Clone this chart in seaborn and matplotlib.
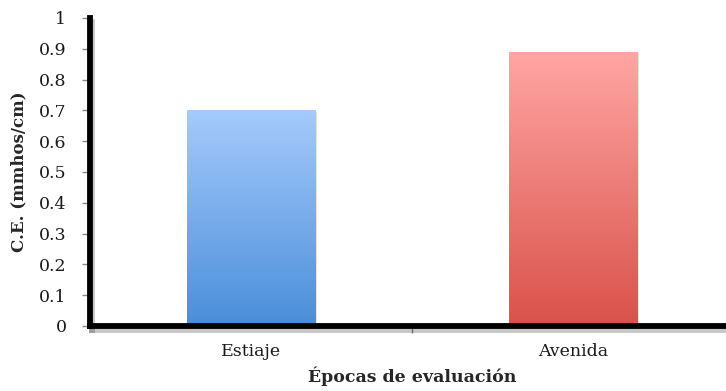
import numpy as np
import pandas as pd
import matplotlib
matplotlib.use("Agg")
import matplotlib.pyplot as plt
import matplotlib.patheffects as pe
from matplotlib.colors import LinearSegmentedColormap
import seaborn as sns

# Conductividad eléctrica por época de evaluación
epocas = ["Estiaje", "Avenida"]
ce_valores = [0.70, 0.89]
y_ticks = [0, 0.1, 0.2, 0.3, 0.4, 0.5, 0.6, 0.7, 0.8, 0.9, 1]

# gradient colours (top, bottom) for each bar
gradientes = [("#a6cafb", "#4a8ed9"), ("#ffa6a4", "#d9524a")]

sns.set_style("white")
plt.rcParams["font.family"] = ["DejaVu Serif"]

df = pd.DataFrame({"epoca": epocas, "ce": ce_valores})

fig = plt.figure(figsize=(7.26, 3.91), dpi=100)
ax = fig.add_axes([90 / 726, 65 / 391, 644 / 726, 308 / 391])

sns.barplot(data=df, x="epoca", y="ce", ax=ax, width=0.4,
            color="white", edgecolor="none", linewidth=0)

ax.set_xlim(-0.5, 1.5)
ax.set_ylim(0, 1)

# vertical gradient fill clipped to each bar
for bar, (c_top, c_bot) in zip(ax.patches, gradientes):
    x0, y0 = bar.get_x(), bar.get_y()
    w, h = bar.get_width(), bar.get_height()
    cmap = LinearSegmentedColormap.from_list("g", [c_bot, c_top])
    grad = np.linspace(0, 1, 256).reshape(-1, 1)
    im = ax.imshow(grad, cmap=cmap, aspect="auto", origin="lower",
                   extent=(x0, x0 + w, y0, y0 + h), zorder=2)
    im.set_clip_path(bar)
    bar.set_path_effects([pe.SimplePatchShadow(offset=(1.5, -1), alpha=0.15), pe.Normal()])

ax.set_xlim(-0.5, 1.5)
ax.set_ylim(0, 1)

for side in ["top", "right"]:
    ax.spines[side].set_visible(False)
for side in ["left", "bottom"]:
    ax.spines[side].set_linewidth(4.2)
    ax.spines[side].set_color("black")
    ax.spines[side].set_zorder(5)
    ax.spines[side].set_capstyle("projecting")
    ax.spines[side].set_path_effects(
        [pe.SimpleLineShadow(offset=(1.5, -3), shadow_color="black", alpha=0.22),
         pe.Normal()])

ax.set_yticks(y_ticks)
ax.set_yticklabels([f"{v:g}" for v in y_ticks])
ax.tick_params(axis="y", direction="out", length=6, width=1, color="#888888",
               labelsize=12.5, labelcolor="#1a1a1a", pad=11, left=True)
ax.tick_params(axis="x", length=0, labelsize=12.5, labelcolor="#1a1a1a", pad=12)
ax.set_xticks([0.5], minor=True)
ax.tick_params(axis="x", which="minor", direction="out", length=5, width=1,
               color="#888888", bottom=True)

ax.set_xlabel("Épocas de evaluación", fontsize=12.5, fontweight="bold", labelpad=5)
ax.set_ylabel("C.E. (mmhos/cm)", fontsize=12, fontweight="bold", labelpad=8)
ax.grid(False)

fig.savefig("out.png", dpi=100)
